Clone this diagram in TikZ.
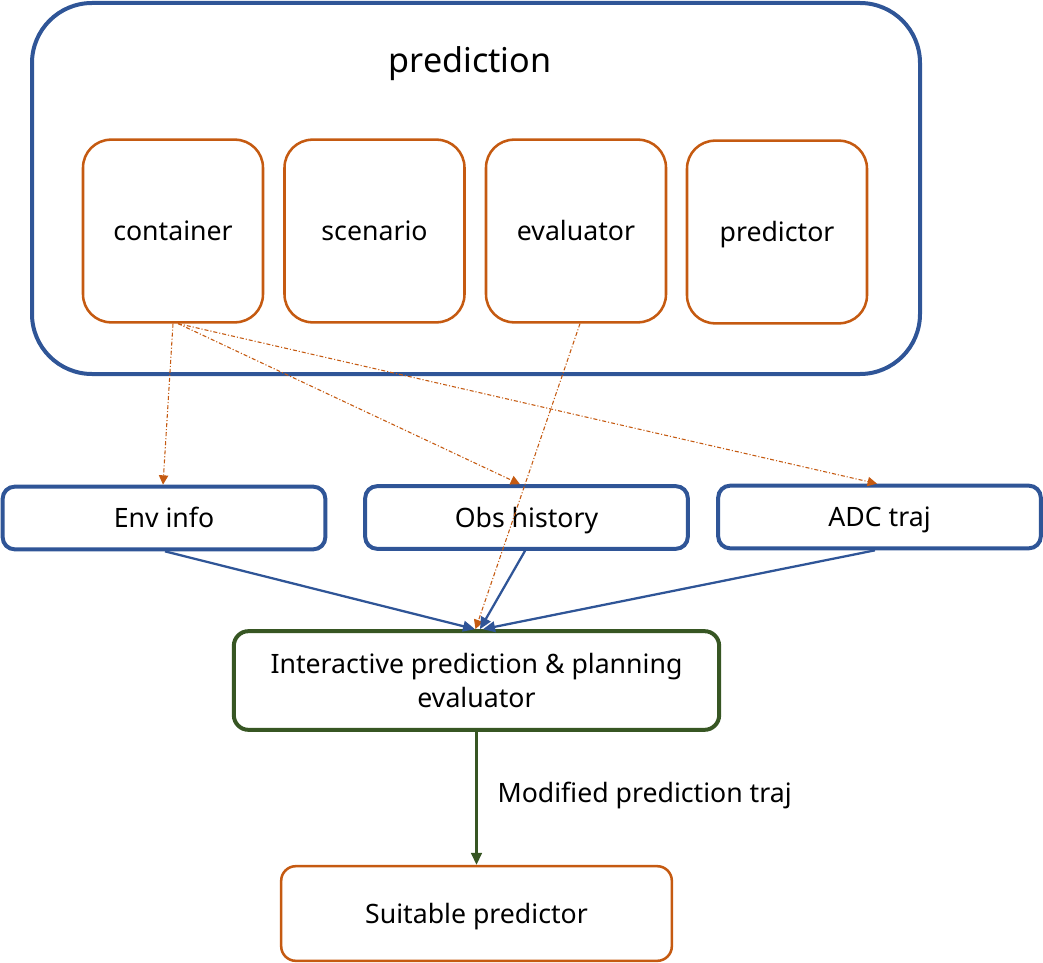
\documentclass[tikz,border=0pt]{standalone}
\usepackage{fontspec}
\setmainfont{Noto Sans}
\usetikzlibrary{arrows.meta,calc}
\definecolor{pblue}{HTML}{2F5597}
\definecolor{porange}{HTML}{C55A11}
\definecolor{pgreen}{HTML}{375623}
\tikzset{
  every node/.style={font=\fontsize{20}{25}\selectfont, align=center, inner sep=0pt},
  oneline/.style={text height=18.5pt, text depth=4pt},
  outerbox/.style={draw=pblue, line width=3pt, rounded corners=45pt},
  modbox/.style={oneline, draw=porange, line width=1.9pt, rounded corners=21pt, minimum width=135pt, minimum height=137pt},
  databox/.style={oneline, draw=pblue, line width=3pt, rounded corners=9pt, minimum width=242pt, minimum height=47pt},
  evalbox/.style={draw=pgreen, line width=3pt, rounded corners=11pt, minimum width=364pt, minimum height=74pt},
  outbox/.style={oneline, draw=porange, line width=1.9pt, rounded corners=11pt, minimum width=293pt, minimum height=71pt},
  dataflow/.style={draw=porange, line width=0.8pt, dash pattern=on 3pt off 1.5pt on 0.8pt off 1.5pt,
    -{Triangle[length=7pt,width=7pt]}},
  feed/.style={draw=pblue, line width=1.7pt, -{Triangle[length=9pt,width=8pt]}},
  result/.style={draw=pgreen, line width=1.7pt, -{Triangle[length=9pt,width=8pt]}},
}
\begin{document}
\begin{tikzpicture}[x=0.75pt,y=-0.75pt]
\useasboundingbox (0,0) rectangle (1043,963);

% prediction module and its components
\draw[outerbox] (32,3) rectangle (920,374);
\node[font=\fontsize{25.6}{30}\selectfont, oneline] (title) at (470,63) {prediction};
\node[modbox] (container) at (173,231) {container};
\node[modbox] (scenario)  at (374.5,231) {scenario};
\node[modbox] (evaluator) at (576,231) {evaluator};
\node[modbox] (predictor) at (777,232) {predictor};

% inputs
\node[databox] (env) at (164,518) {Env info};
\node[databox] (obs) at (526.5,517.5) {Obs history};
\node[databox] (adc) at (879.5,517) {ADC traj};

% evaluator and result
\node[evalbox] (ipp) at (476.5,680.5) {Interactive prediction \& planning\\evaluator};
\node[outbox] (suit) at (476.5,913.5) {Suitable predictor};

% data provided by the container
\draw[dataflow] ([xshift=0pt]container.south) -- ([xshift=-0.75pt]env.north);
\draw[dataflow] ([xshift=3.75pt]container.south) -- ([xshift=-4.9pt]obs.north);
\draw[dataflow] ([xshift=3.75pt]container.south) -- ([xshift=-1.9pt]adc.north);
\draw[dataflow] ([xshift=3pt]evaluator.south) -- ([xshift=-0.75pt]ipp.north);

% inputs to the evaluator
\draw[feed] ([xshift=0.75pt]env.south) -- ([xshift=-1.1pt]ipp.north);
\draw[feed] ([xshift=-1.1pt]obs.south) -- ([xshift=2.6pt]ipp.north);
\draw[feed] ([xshift=-3.4pt]adc.south) -- ([xshift=4.9pt]ipp.north);

% output
\draw[result] (ipp.south) -- node[oneline, anchor=west, xshift=15pt, yshift=4.5pt] {Modified prediction traj} (suit.north);
\end{tikzpicture}
\end{document}
